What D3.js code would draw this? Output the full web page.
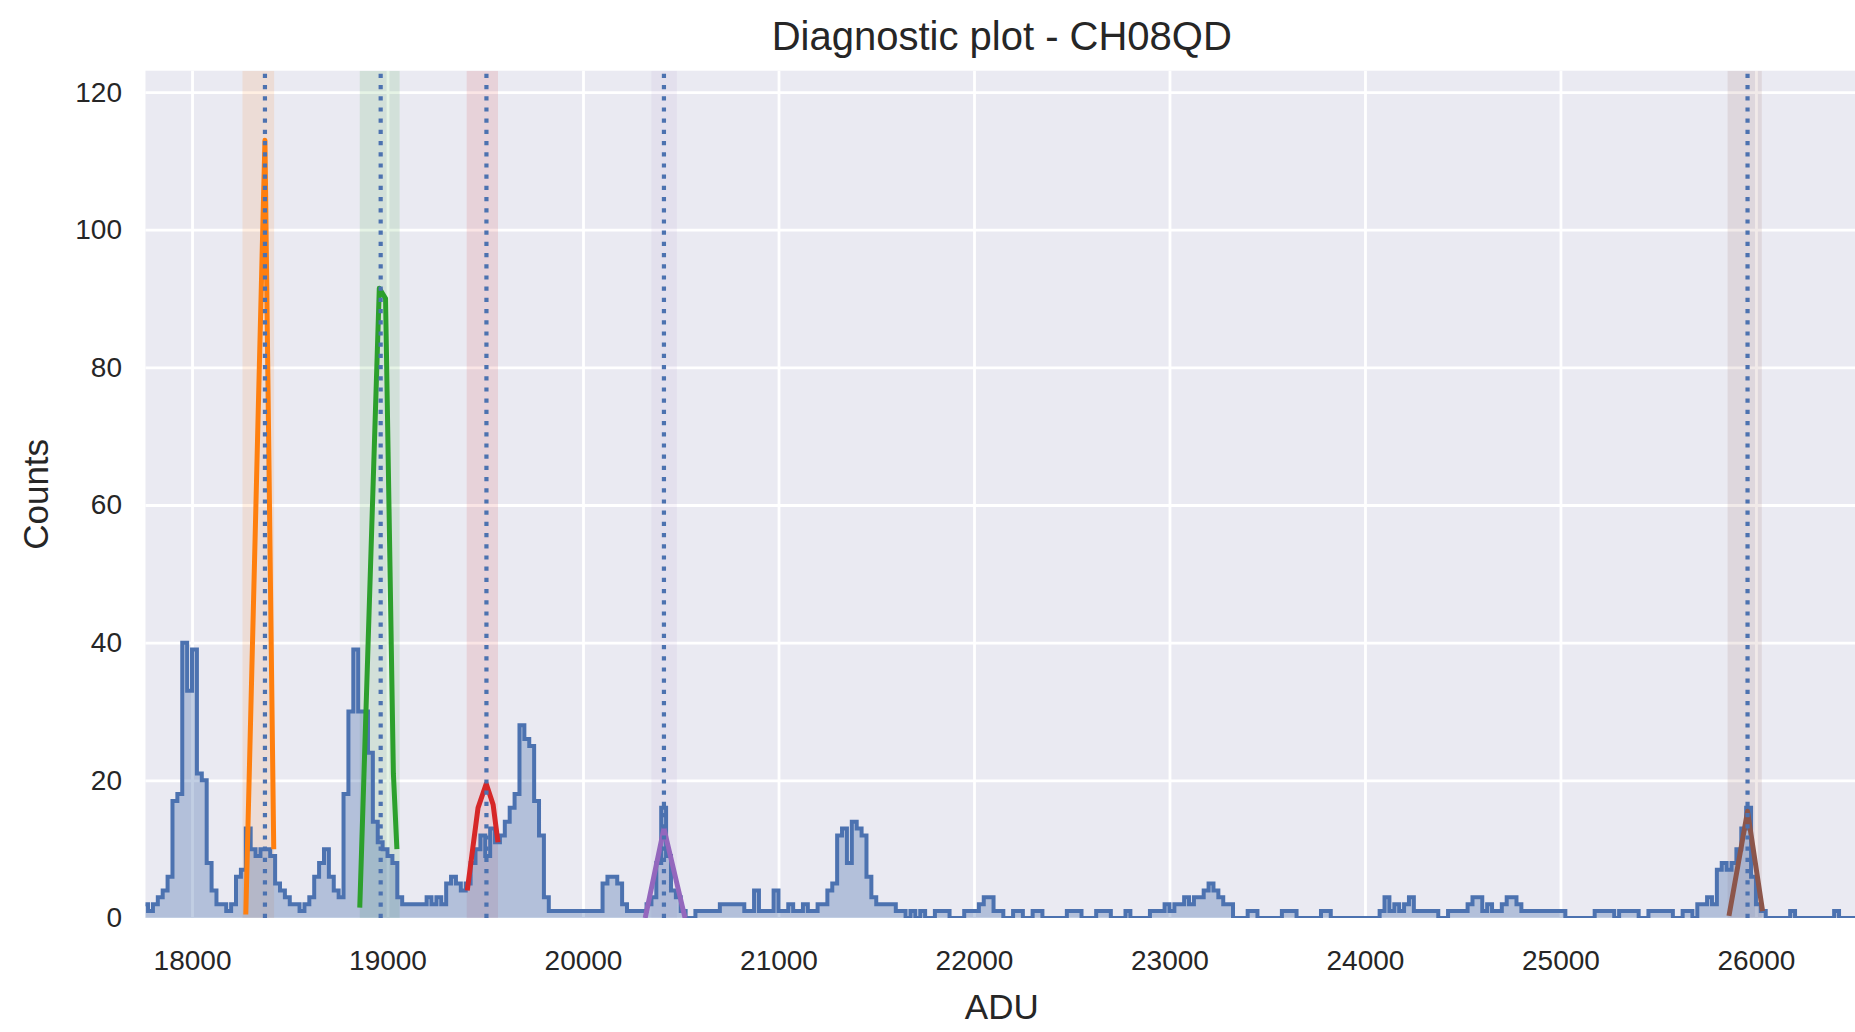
<!DOCTYPE html>
<html>
<head>
<meta charset="utf-8">
<script src="https://cdn.jsdelivr.net/npm/d3@7"></script>
<style>
  html, body { margin: 0; padding: 0; background: #ffffff; }
  svg { display: block; font-family: "Liberation Sans", Arial, sans-serif; }
</style>
</head>
<body>
<svg id="chart" width="1855" height="1032"></svg>
<script>
// ---- Data ---------------------------------------------------------------
const chartTitle = "Diagnostic plot - CH08QD";
const xLabel = "ADU";
const yLabel = "Counts";

const xTicks = [18000, 19000, 20000, 21000, 22000, 23000, 24000, 25000, 26000];
const yTicks = [0, 20, 40, 60, 80, 100, 120];

// Histogram: first bin edge and bin width (ADU), then counts per bin
const binStart = 17750;
const binWidth = 25;
const counts = [
  2, 1, 2, 3, 4, 6, 17, 18, 40, 33, 39, 21, 20, 8, 4, 2, 2, 1, 2, 6,
  7, 13, 10, 9, 10, 10, 9, 5, 4, 3, 2, 2, 1, 2, 3, 6, 8, 10, 6, 4,
  3, 18, 30, 39, 30, 30, 24, 14, 11, 10, 9, 8, 3, 2, 2, 2, 2, 2, 3, 2,
  3, 2, 5, 6, 5, 4, 5, 8, 10, 12, 9, 13, 11, 12, 14, 16, 18, 28, 26, 25,
  17, 12, 3, 1, 1, 1, 1, 1, 1, 1, 1, 1, 1, 1, 5, 6, 6, 5, 2, 1,
  1, 1, 1, 2, 3, 8, 16, 9, 4, 3, 1, 0, 0, 1, 1, 1, 1, 1, 2, 2,
  2, 2, 2, 1, 1, 4, 1, 1, 1, 4, 1, 1, 2, 1, 1, 2, 1, 1, 2, 2,
  4, 5, 12, 13, 8, 14, 13, 12, 6, 3, 2, 2, 2, 2, 1, 1, 0, 1, 0, 1,
  0, 0, 1, 1, 1, 0, 0, 0, 1, 1, 1, 2, 3, 3, 1, 1, 0, 0, 1, 1,
  0, 0, 1, 1, 0, 0, 0, 0, 0, 1, 1, 1, 0, 0, 0, 1, 1, 1, 0, 0,
  0, 1, 0, 0, 0, 0, 1, 1, 1, 2, 1, 2, 2, 3, 2, 3, 3, 4, 5, 4,
  3, 2, 2, 0, 0, 0, 1, 1, 0, 0, 0, 0, 0, 1, 1, 1, 0, 0, 0, 0,
  0, 1, 1, 0, 0, 0, 0, 0, 0, 0, 0, 0, 0, 1, 3, 1, 2, 1, 2, 3,
  1, 1, 1, 1, 1, 0, 0, 1, 1, 1, 1, 2, 3, 3, 1, 2, 1, 1, 2, 3,
  3, 2, 1, 1, 1, 1, 1, 1, 1, 1, 1, 0, 0, 0, 0, 0, 0, 1, 1, 1,
  1, 0, 1, 1, 1, 1, 0, 0, 1, 1, 1, 1, 1, 0, 0, 1, 1, 0, 2, 2,
  3, 2, 7, 8, 7, 8, 10, 13, 16, 6, 2, 1, 0, 0, 0, 0, 0, 1, 0, 0,
  0, 0, 0, 0, 0, 0, 1, 0, 0, 0, 0, 0
];

// Identified peaks: centre (ADU), fit window [lo, hi] and fitted curve points [ADU, counts]
const peakCenters = [18373, 18965, 19506, 20414, 25957];
const fitWindows = [
  [18258, 18420],
  [18858, 19062],
  [19405, 19565],
  [20350, 20480],
  [25855, 26030]
];
const fitCurves = [
  [[18275, 0.5], [18373, 113], [18418, 10]],
  [[18858, 1.5], [18958, 91.5], [18990, 90], [19030, 21], [19048, 10]],
  [[19408, 4], [19463, 16], [19505, 19.5], [19540, 16.5], [19565, 11]],
  [[20318, 0], [20414, 13], [20522, 0]],
  [[25862, 0.3], [25957, 15.5], [26034, 1]]
];

// ---- Styling ------------------------------------------------------------
const fitColors = ["#ff7f0e", "#2ca02c", "#d62728", "#9467bd", "#8c564b"];
const windowOpacity = [0.12, 0.12, 0.12, 0.07, 0.12];
const histColor = "#4c72b0";
const textColor = "#262626";

// ---- Layout -------------------------------------------------------------
const plot = { left: 145.5, right: 1858, top: 70.7, bottom: 918 };
const svg = d3.select("#chart");

const x = d3.scaleLinear().domain([17762, 26522]).range([plot.left, plot.right]);
const y = d3.scaleLinear().domain([0, 123.1]).range([plot.bottom, plot.top]);

svg.append("defs").append("clipPath").attr("id", "plot-clip")
  .append("rect")
  .attr("x", plot.left).attr("y", plot.top)
  .attr("width", plot.right - plot.left).attr("height", plot.bottom - plot.top);

// Axes background
svg.append("rect")
  .attr("x", plot.left).attr("y", plot.top)
  .attr("width", plot.right - plot.left).attr("height", plot.bottom - plot.top)
  .attr("fill", "#eaeaf2");

// Grid + tick labels
const xAxis = svg.append("g")
  .attr("transform", `translate(0,${plot.bottom})`)
  .call(d3.axisBottom(x).tickValues(xTicks).tickFormat(d3.format("d"))
    .tickSize(-(plot.bottom - plot.top)).tickPadding(32));
const yAxis = svg.append("g")
  .attr("transform", `translate(${plot.left},0)`)
  .call(d3.axisLeft(y).tickValues(yTicks).tickFormat(d3.format("d"))
    .tickSize(-(plot.right - plot.left)).tickPadding(23.5));

[xAxis, yAxis].forEach(g => {
  g.select(".domain").remove();
  g.selectAll(".tick line").attr("stroke", "#ffffff").attr("stroke-width", 2.8);
  g.selectAll(".tick text")
    .attr("fill", textColor)
    .style("font-size", "28px")
    .style("font-family", '"Liberation Sans", Arial, sans-serif');
});

const layer = svg.append("g").attr("clip-path", "url(#plot-clip)");

// Fit windows
layer.selectAll("rect.window")
  .data(fitWindows)
  .join("rect")
  .attr("class", "window")
  .attr("x", d => x(d[0]))
  .attr("width", d => x(d[1]) - x(d[0]))
  .attr("y", plot.top)
  .attr("height", plot.bottom - plot.top)
  .attr("fill", (d, i) => fitColors[i])
  .attr("opacity", (d, i) => windowOpacity[i]);

// Histogram (step outline with translucent fill)
const histPts = counts.map((c, i) => [binStart + i * binWidth, c]);
histPts.push([binStart + counts.length * binWidth, counts[counts.length - 1]]);

layer.append("path")
  .datum(histPts)
  .attr("fill", histColor)
  .attr("fill-opacity", 0.35)
  .attr("d", d3.area().curve(d3.curveStepAfter)
    .x(d => x(d[0])).y0(y(0)).y1(d => y(d[1])));

layer.append("path")
  .datum(histPts)
  .attr("fill", "none")
  .attr("stroke", histColor)
  .attr("stroke-width", 4)
  .attr("stroke-linejoin", "miter")
  .attr("d", d3.line().curve(d3.curveStepAfter)
    .x(d => x(d[0])).y(d => y(d[1])));

// Fitted peak curves
const fitLine = d3.line().x(d => x(d[0])).y(d => y(d[1]));
layer.selectAll("path.fit")
  .data(fitCurves)
  .join("path")
  .attr("class", "fit")
  .attr("fill", "none")
  .attr("stroke", (d, i) => fitColors[i])
  .attr("stroke-width", 5)
  .attr("stroke-linejoin", "round")
  .attr("d", fitLine);

// Peak centre markers
layer.selectAll("line.centre")
  .data(peakCenters)
  .join("line")
  .attr("class", "centre")
  .attr("x1", d => x(d)).attr("x2", d => x(d))
  .attr("y1", plot.bottom).attr("y2", plot.top)
  .attr("stroke", histColor)
  .attr("stroke-width", 4.2)
  .attr("stroke-dasharray", "4.2 7");

// Title and axis labels
svg.append("text")
  .attr("x", (plot.left + plot.right) / 2).attr("y", 36)
  .attr("text-anchor", "middle").attr("dominant-baseline", "central")
  .attr("fill", textColor).style("font-size", "40px")
  .text(chartTitle);

svg.append("text")
  .attr("x", (plot.left + plot.right) / 2).attr("y", 1006)
  .attr("text-anchor", "middle").attr("dominant-baseline", "central")
  .attr("fill", textColor).style("font-size", "35px")
  .text(xLabel);

svg.append("text")
  .attr("transform", `translate(35,${(plot.top + plot.bottom) / 2}) rotate(-90)`)
  .attr("text-anchor", "middle").attr("dominant-baseline", "central")
  .attr("fill", textColor).style("font-size", "35px")
  .text(yLabel);
</script>
</body>
</html>
